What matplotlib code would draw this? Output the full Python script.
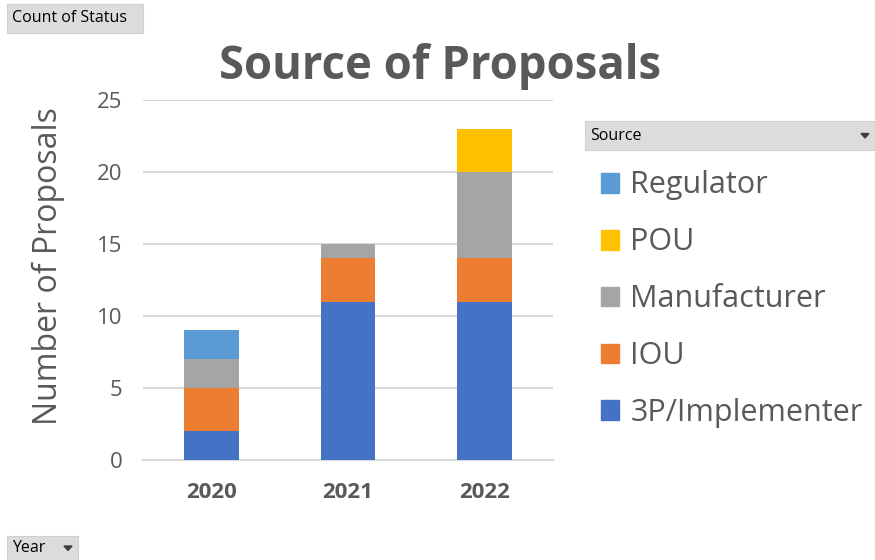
import matplotlib.pyplot as plt
from matplotlib.patches import Rectangle, Patch, Polygon

plt.rcParams['font.family'] = ['Open Sans', 'DejaVu Sans']

years = ['2020', '2021', '2022']
sources = ['3P/Implementer', 'IOU', 'Manufacturer', 'POU', 'Regulator']
implementer = [2, 11, 11]
iou = [3, 3, 3]
manufacturer = [2, 1, 6]
pou = [0, 0, 3]
regulator = [2, 0, 0]
colors = ['#4472c4', '#ed7d31', '#a5a5a5', '#ffc000', '#5b9bd5']

series = [implementer, iou, manufacturer, pou, regulator]

fig = plt.figure(figsize=(8.75, 5.6), dpi=100)
ax = fig.add_axes([143/875, 1-460/560, 410/875, 360/560])

x = range(len(years))
bottom = [0, 0, 0]
handles = []
for vals, name, c in zip(series, sources, colors):
    ax.bar(x, vals, 0.4, bottom=bottom, color=c, label=name, zorder=3)
    bottom = [b + v for b, v in zip(bottom, vals)]
    handles.append(Patch(color=c, label=name))

ax.set_xlim(-0.5, 2.5)
ax.set_ylim(0, 25)
ax.set_yticks([0, 5, 10, 15, 20, 25])
ax.set_xticks(list(x))
ax.set_xticklabels(years, fontsize=16, fontweight='bold', color='#595959')
ax.tick_params(axis='y', labelsize=16, labelcolor='#595959', length=0, pad=15)
ax.tick_params(axis='x', length=0, pad=16)
ax.grid(axis='y', color='#d9d9d9', linewidth=1.5, zorder=0)
for s in ['top', 'right', 'left']:
    ax.spines[s].set_visible(False)
ax.spines['bottom'].set_color('#d9d9d9')
ax.spines['bottom'].set_linewidth(1.5)

ax.set_ylabel('Number of Proposals', fontsize=23, color='#595959')
ax.yaxis.set_label_coords(-0.19, 0.539)
fig.text(440/875, 1-79/560, 'Source of Proposals', fontsize=32.8, fontweight='bold',
         color='#595959', ha='center', va='baseline')

fig.legend(handles=handles[::-1], loc='upper left', bbox_to_anchor=(573/875, 1-143/560),
           frameon=False, fontsize=22, handlelength=0.62, handleheight=0.62,
           handletextpad=0.36, labelspacing=0.88, labelcolor='#595959')

# pivot chart field buttons
def button(x0, y0, w, h, text, arrow=False):
    fig.patches.append(Rectangle((x0/875, 1-(y0+h)/560), w/875, h/560,
                                 transform=fig.transFigure, facecolor='#dcdcdc',
                                 edgecolor='#d0d0d0', linewidth=0.8))
    fig.text((x0+5)/875, 1-(y0+h/2)/560, text, fontsize=11.5, color='#000000',
             ha='left', va='center')
    if arrow:
        ax_ = x0 + w - 10
        ay_ = y0 + h/2
        fig.patches.append(Polygon([((ax_-4)/875, 1-(ay_-2)/560), ((ax_+4)/875, 1-(ay_-2)/560),
                                    (ax_/875, 1-(ay_+2.5)/560)], closed=True,
                                   transform=fig.transFigure, color='#404040'))

button(7, 4, 136, 29, 'Count of Status')
button(585, 121, 290, 29, 'Source', arrow=True)
button(7, 536, 71, 24, 'Year', arrow=True)

fig.savefig('out.png', dpi=100)
